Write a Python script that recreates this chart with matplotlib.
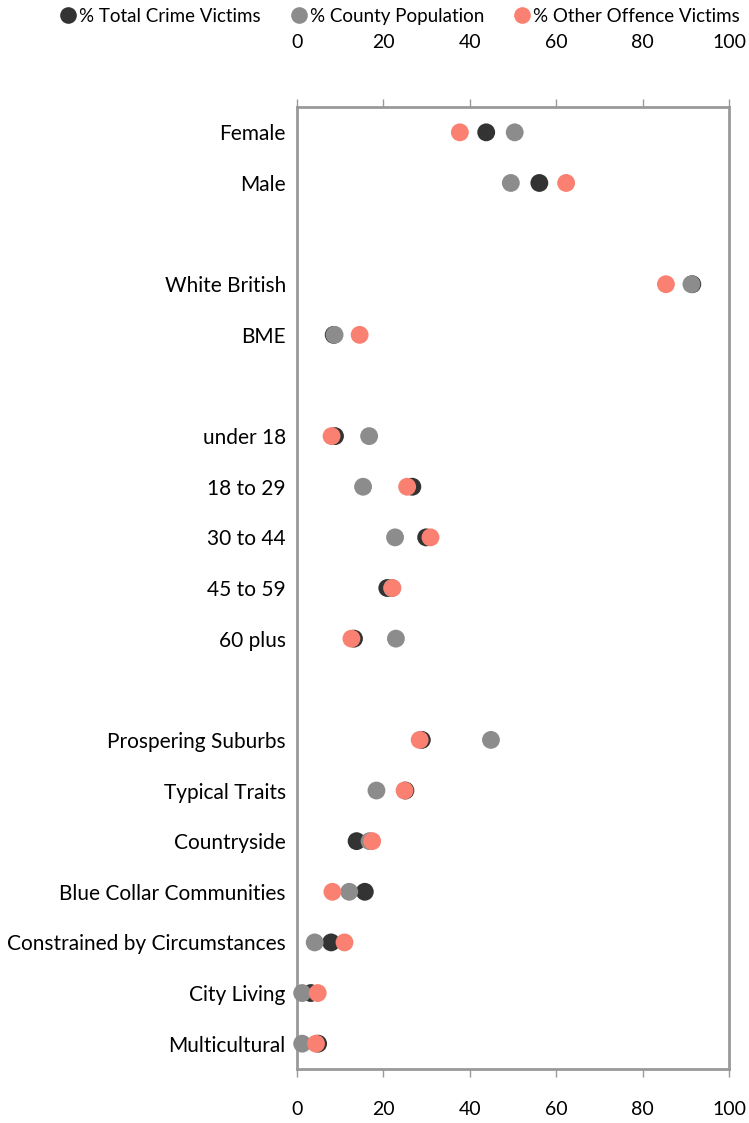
import matplotlib
matplotlib.use('Agg')
import matplotlib.pyplot as plt
from matplotlib.lines import Line2D

categories = ['Female', 'Male', '', 'White British', 'BME', '',
              'under 18', '18 to 29', '30 to 44', '45 to 59', '60 plus', '',
              'Prospering Suburbs', 'Typical Traits', 'Countryside',
              'Blue Collar Communities', 'Constrained by Circumstances',
              'City Living', 'Multicultural']

# None where a slot is a blank spacer row
total_crime = [43.8, 56.1, None, 91.5, 8.5, None,
               8.8, 26.7, 29.9, 20.9, 13.2, None,
               28.9, 25.1, 13.8, 15.7, 7.9, 3.2, 4.9]
county_pop = [50.4, 49.5, None, 91.3, 8.7, None,
              16.7, 15.3, 22.7, 22.0, 22.9, None,
              44.9, 18.4, 16.8, 12.1, 4.1, 1.2, 1.2]
other_offence = [37.7, 62.3, None, 85.4, 14.5, None,
                 8.0, 25.5, 30.9, 22.1, 12.6, None,
                 28.4, 24.9, 17.4, 8.2, 11.0, 4.8, 4.4]

series_names = ['% Total Crime Victims', '% County Population', '% Other Offence Victims']
colors = ['#333333', '#8c8c8c', '#fa8072']
ticks = [0, 20, 40, 60, 80, 100]

plt.rcParams['font.family'] = ['Lato', 'DejaVu Sans']
fs = 15
tfs = 14
frame_col = '#999999'

fig = plt.figure(figsize=(7.49, 11.23), dpi=100)
ax = fig.add_axes([0.3965, 0.0481, 0.5768, 0.8566])

n = len(categories)
ypos = list(range(n))
for vals, col in zip([total_crime, county_pop, other_offence], colors):
    xs = [v for v in vals if v is not None]
    ys = [y for y, v in zip(ypos, vals) if v is not None]
    ax.scatter(xs, ys, s=165, color=col, edgecolors='none', zorder=3, clip_on=False)

ax.set_xlim(0, 100)
ax.set_ylim(n - 0.5, -0.5)
ax.set_yticks(ypos)
ax.set_yticklabels(categories, fontsize=fs)
ax.tick_params(axis='y', length=0, pad=8)
ax.set_xticks(ticks)
ax.set_xticklabels([str(t) for t in ticks], fontsize=tfs)
ax.tick_params(axis='x', direction='out', length=6, width=1, color=frame_col, pad=17)
for sp in ax.spines.values():
    sp.set_color(frame_col)
    sp.set_linewidth(2)

top = ax.secondary_xaxis('top')
top.set_xticks(ticks)
top.set_xticklabels([str(t) for t in ticks], fontsize=tfs)
top.tick_params(direction='out', length=6, width=1, color=frame_col, pad=34)
top.spines['top'].set_visible(False)

handles = [Line2D([], [], marker='o', linestyle='none', markersize=12,
                  markerfacecolor=c, markeredgecolor='none') for c in colors]
fig.legend(handles, series_names, loc='upper center', bbox_to_anchor=(0.533, 1.008),
           ncol=3, frameon=False, fontsize=13.5, handletextpad=0.1,
           columnspacing=1.5, handlelength=1.0)

fig.savefig('out.png', dpi=100)
